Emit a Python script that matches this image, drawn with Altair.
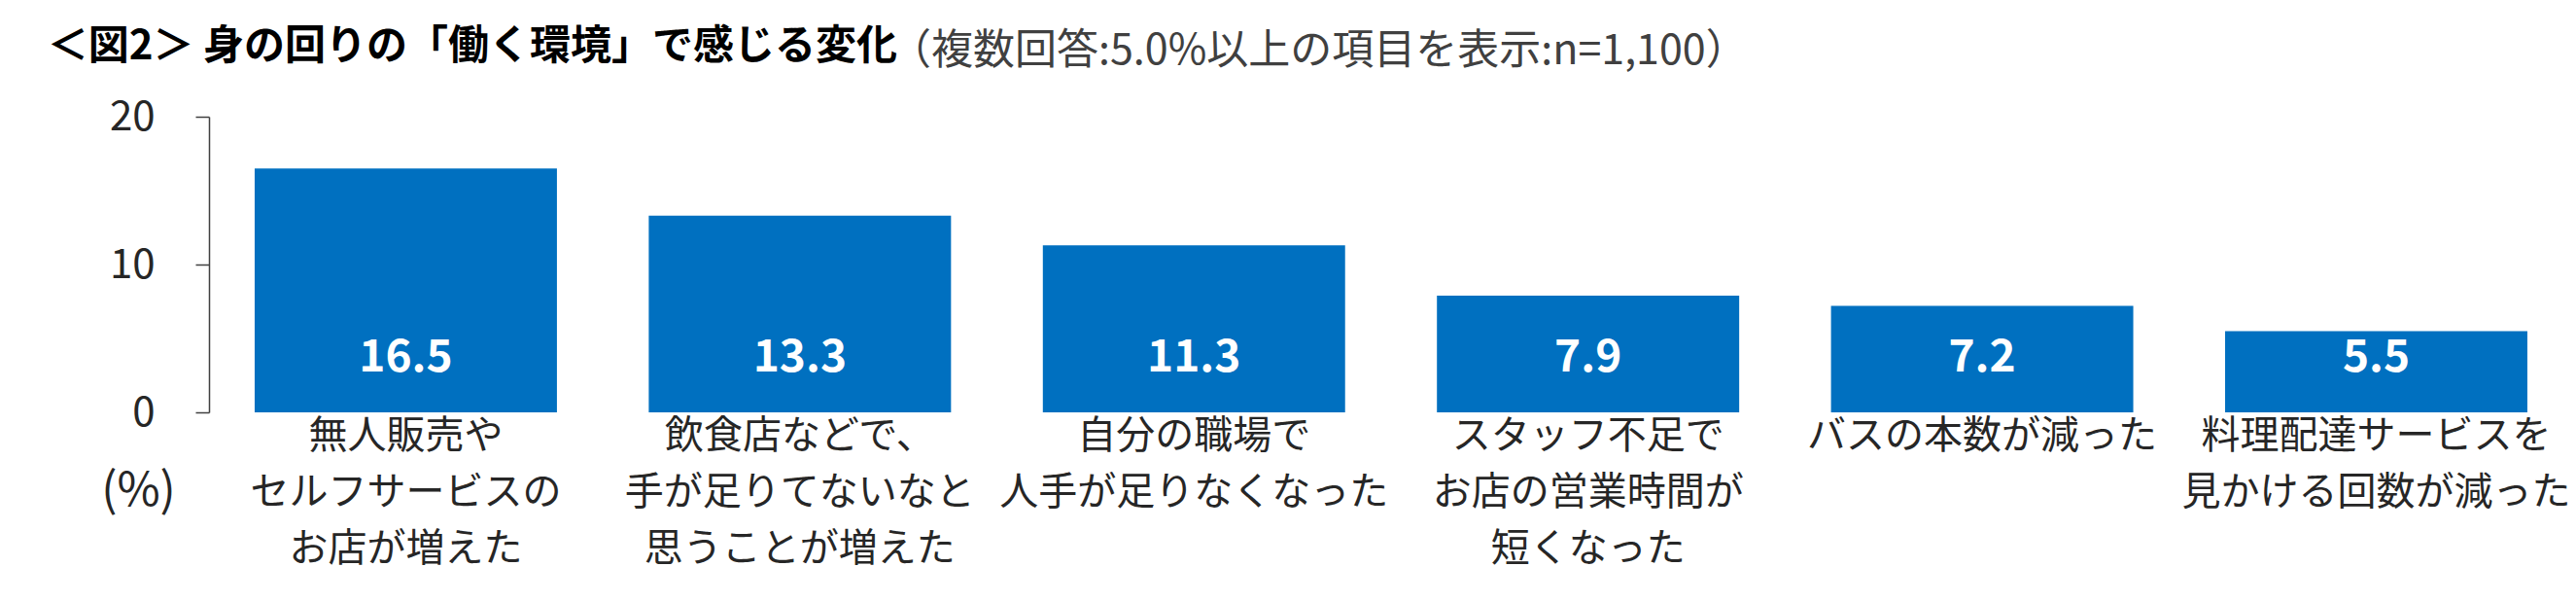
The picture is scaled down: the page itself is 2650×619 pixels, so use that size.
import altair as alt
import pandas as pd

categories = [
    "無人販売や\nセルフサービスの\nお店が増えた",
    "飲食店などで、\n手が足りてないなと\n思うことが増えた",
    "自分の職場で\n人手が足りなくなった",
    "スタッフ不足で\nお店の営業時間が\n短くなった",
    "バスの本数が減った",
    "料理配達サービスを\n見かける回数が減った",
]
values = [16.5, 13.3, 11.3, 7.9, 7.2, 5.5]
y_ticks = [0, 10, 20]
title_text = "＜図2＞ 身の回りの「働く環境」で感じる変化"
subtitle_text = "（複数回答:5.0%以上の項目を表示:n=1,100）"
unit_label = "(%)"

df = pd.DataFrame({"cat": categories, "val": values})
sub_df = pd.DataFrame({"t": [subtitle_text]})

FONT = "Noto Sans CJK JP"
TEXT = "#262626"
BLUE = "#0070C0"

x_enc = alt.X(
    "cat:N",
    sort=None,
    scale=alt.Scale(paddingInner=0.233, paddingOuter=0.095, align=0.61),
    axis=alt.Axis(
        title=None,
        labelAngle=0,
        labelExpr="split(datum.value, '\\n')",
        labelFont=FONT,
        labelFontSize=40,
        labelLineHeight=58,
        labelPadding=4,
        labelLimit=1000,
        labelOverlap=False,
        labelColor=TEXT,
        domain=False,
        ticks=False,
    ),
)

y_enc = alt.Y(
    "val:Q",
    scale=alt.Scale(domain=[0, 20]),
    axis=alt.Axis(
        values=y_ticks,
        title=unit_label,
        titleAngle=0,
        titleX=-73,
        titleY=385,
        titleAlign="center",
        titleBaseline="middle",
        titleFont=FONT,
        titleFontSize=48,
        titleFontWeight="normal",
        titleColor=TEXT,
        labelFont=FONT,
        labelFontSize=42,
        labelColor=TEXT,
        labelPadding=42,
        tickSize=14,
        tickColor="#404040",
        tickWidth=1.5,
        domainColor="#404040",
        domainWidth=1.5,
        grid=False,
    ),
)

base = alt.Chart(df)

bars = base.mark_bar(color=BLUE).encode(x=x_enc, y=y_enc)

labels = base.mark_text(
    color="white", font=FONT, fontSize=46, fontWeight="bold", baseline="middle"
).encode(
    x=alt.X("cat:N", sort=None),
    y=alt.YDatum(3.7),
    text=alt.Text("val:Q", format=".1f"),
)

subtitle = alt.Chart(sub_df).mark_text(
    align="left", baseline="middle", font=FONT, fontSize=43, color="#404040"
).encode(
    x=alt.value(700),
    y=alt.value(-67),
    text="t:N",
)

chart = alt.layer(bars, labels, subtitle).properties(
    width=2415,
    height=304,
    title=alt.TitleParams(
        title_text,
        anchor="start",
        font=FONT,
        fontSize=42,
        fontWeight="bold",
        color="black",
        dx=-55,
        offset=0,
        dy=38,
    ),
    autosize=alt.AutoSizeParams(type="none"),
    padding={"left": 207, "top": 112, "right": 12, "bottom": 190},
).configure_view(stroke=None)

chart.save("out.html", embed_options={"renderer": "svg", "actions": False})
